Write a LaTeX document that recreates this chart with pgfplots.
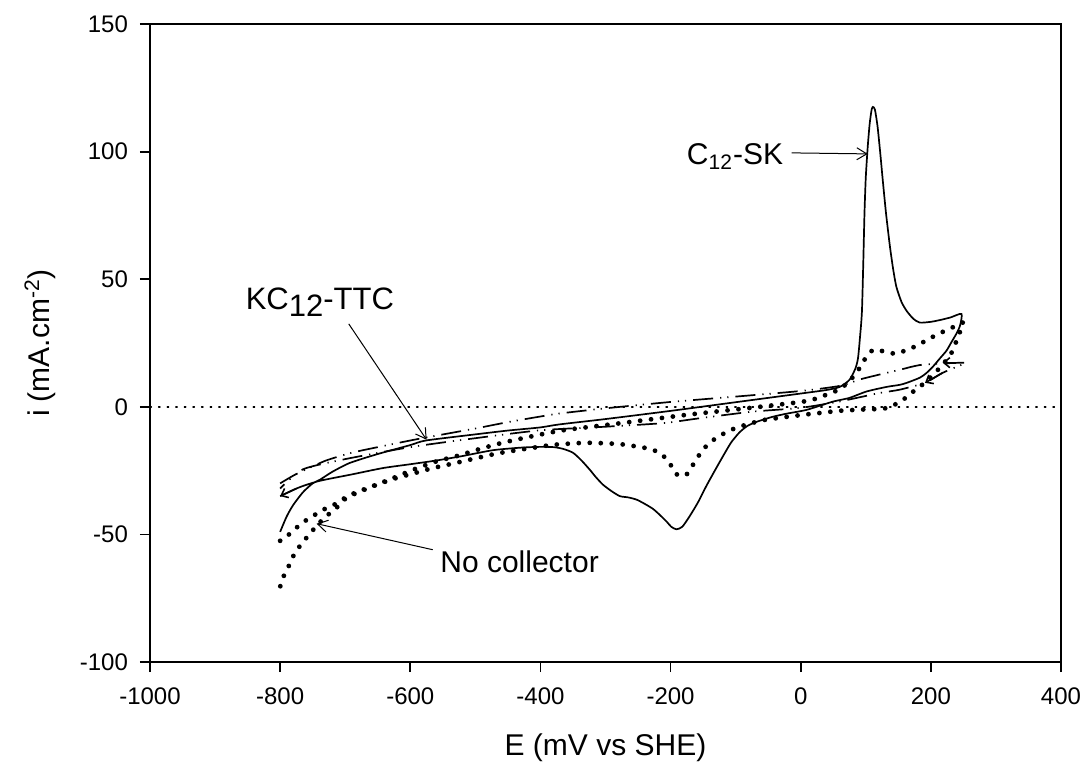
\documentclass[border=0pt]{standalone}
\usepackage{fontspec}
\setmainfont{Liberation Sans}
\usepackage{pgfplots}
\pgfplotsset{compat=1.18}
\usetikzlibrary{arrows.meta}

\begin{document}
\begin{tikzpicture}
\begin{axis}[
  scale only axis, width=455.5pt, height=319pt,
  xmin=-1000, xmax=400, ymin=-100, ymax=150,
  xtick={-1000,-800,...,400}, ytick={-100,-50,...,150},
  tick align=outside, xtick pos=bottom, ytick pos=left,
  major tick length=5pt,
  axis line style={line width=0.9pt},
  every tick/.style={line width=0.9pt, black},
  /pgf/number format/assume math mode=true,
  /pgf/number format/1000 sep={},
  ticklabel style={font=\fontsize{12}{14}\selectfont},
  xticklabel style={yshift=-4.5pt},
  yticklabel style={xshift=-2.5pt},
  xlabel={E (mV vs SHE)},
  ylabel={i (mA.cm\textsuperscript{-2})},
  label style={font=\fontsize{15}{18}\selectfont},
  xlabel style={at={(axis description cs:0.5,-0.1348)}, anchor=center},
  ylabel style={at={(axis description cs:-0.1207,0.5)}, anchor=center},
]
% zero line
\addplot[black, line width=0.7pt, dash pattern=on 0.7pt off 3.6pt, line cap=round] coordinates {(-1000,0) (400,0)};

% C12-SK (solid)
\addplot[black, line width=0.85pt, smooth, tension=0.4] coordinates {
(-800,-49) (-790,-43) (-780,-38.5) (-765,-33.5) (-750,-30) (-739,-28.6) (-720,-25.5) (-693,-22) (-650,-18.5) (-600,-15) (-576,-13.2) (-500,-10.8) (-450,-9.3) (-401,-8.1) (-371,-6.9) (-300,-4.8) (-200,-1.6) (-100,1.8) (0,5.2) (40,6.6) (60,7.8) (75,10.6) (84,15) (88,19) (91,27) (94,37) (96,55) (98,76) (100,90) (103,102) (106,111) (109,116.5) (111,117.5) (114,116.5) (118,110) (122,100) (126,89) (131,76) (137,63) (142,54) (147,47) (155,41) (163,37.5) (173,34.5) (183,33) (200,33.3) (214,34) (230,35) (247,36.4)
(245,32) (240,29) (232,25.5) (224,22) (214,19) (203,15.7) (193,13.2) (183,11.4) (163,9.4) (152,8.6) (132,7.8) (101,6) (75,3.5) (49,2) (9,-1.2) (-20,-2.6) (-43,-3.9) (-68,-5.9) (-82,-7.5) (-94,-10) (-107,-14) (-120,-19.6) (-132,-25) (-145,-31) (-158,-37.5) (-171,-43) (-182,-47) (-191,-48) (-199,-47) (-206,-45) (-216,-42.5) (-227,-40) (-240,-38) (-252,-36.4) (-265,-35.5) (-278,-35) (-291,-33) (-304,-30.5) (-315,-27.5) (-324,-24.7) (-337,-21) (-350,-18) (-365,-16.5) (-380,-15.8) (-401,-15.7) (-430,-16) (-473,-17) (-520,-19.3) (-559,-21) (-600,-22.5) (-642,-24) (-690,-26.5) (-739,-29) (-770,-31.5) (-800,-35)
};

% No collector (dotted)
\addplot[black, line width=2.4pt, dash pattern=on 0pt off 5.5pt, line cap=round, smooth, tension=0.4] coordinates {
(-800,-52.5) (-795,-52) (-780,-48.5) (-765,-45.3) (-749,-42.7) (-732,-40.1) (-712,-37.7) (-697,-35.1) (-680,-33.2) (-662,-31.5) (-629,-28.2) (-596,-24.7) (-560,-21.4) (-527,-19.2) (-494,-16.6) (-460,-14.2) (-427,-12.3) (-393,-10.5) (-360,-9) (-276,-6.4) (-174,-3.1) (-73,-0.3) (10,2.3) (43,5.1) (60,6.9) (74,9.9) (87,13.8) (97,18.1) (111,22.3) (128,21.7) (146,20.8) (161,22.1) (179,24) (196,26.5) (212,28.6) (227,30.4) (242,32.1) (250,33)
(246,30.2) (239,25.6) (232,21.3) (220,17.1) (206,13.2) (191,9.5) (175,6.4) (159,3.1) (142,0.5) (126,-0.8) (100,-1.0) (57,-1.6) (41,-2.1) (8,-3) (-26,-4.1) (-59,-5.3) (-94,-7.8) (-110,-9.4) (-126,-11.6) (-142,-14.5) (-155,-18.5) (-166,-22.9) (-177,-26.9) (-191,-26.4) (-201,-22.3) (-214,-18.5) (-230,-16.6) (-246,-15.8) (-279,-14.6) (-330,-14.1) (-381,-14.9) (-397,-15.5) (-431,-16.8) (-465,-18.2) (-498,-20.1) (-532,-22.1) (-565,-24) (-598,-26.3) (-629,-28.5) (-662,-31.6) (-697,-35.5) (-710,-38.8) (-725,-42) (-742,-46) (-753,-49.4) (-766,-53.3) (-778,-57.6) (-786,-62) (-795,-66.6) (-800,-70.5)
};

% KC12-TTC (dash-dot-dot)
\addplot[black, line width=0.85pt, dash pattern=on 10pt off 3.5pt on 0.6pt off 3pt on 0.6pt off 3.5pt, smooth, tension=0.4] coordinates {
(-800,-30) (-780,-27) (-760,-24.5) (-729,-21) (-690,-18) (-650,-15.8) (-600,-13.2) (-575,-12) (-500,-8.5) (-450,-6) (-400,-3.8) (-370,-2.6) (-300,-0.6) (-200,1.9) (-100,4) (0,6.2) (60,8.2) (95,11) (152,14.5) (187,16.5) (250,17.3)
(250,16.8) (218,13.3) (191,9.4) (152,6.7) (121,5.4) (60,2.1) (0,-0.4) (-74,-1.9) (-150,-4.3) (-212,-6.4) (-300,-7.8) (-400,-9.2) (-500,-12.3) (-600,-15.8) (-700,-20.5) (-765,-24.5) (-800,-32)
};

% annotations
\node[anchor=base, font=\fontsize{15}{18}\selectfont] at (axis cs:-101,94.8) {C\textsubscript{12}-SK};
\draw[line width=0.5pt, -{Straight Barb[length=5pt,width=6pt]}] (axis cs:-14,99.5) -- (axis cs:103,99.1);
\node[anchor=base, font=\fontsize{15.5}{18}\selectfont] at (axis cs:-739,38) {KC\raisebox{-3.5pt}{12}-TTC};
\draw[line width=0.5pt, -{Straight Barb[length=5pt,width=6pt]}] (axis cs:-694.6,32.5) -- (axis cs:-575,-12.9);
\node[anchor=base, font=\fontsize{15}{18}\selectfont] at (axis cs:-432,-65) {No collector};
\draw[line width=0.5pt, -{Straight Barb[length=5pt,width=6pt]}] (axis cs:-565.5,-56) -- (axis cs:-744,-45.8);
% scan direction marks
\draw[line width=0.8pt, -{Straight Barb[length=3pt,width=5pt]}] (axis cs:244,17.3) -- (axis cs:218,17.3);
\draw[line width=0.8pt, -{Straight Barb[length=3pt,width=5pt]}] (axis cs:218,13.3) -- (axis cs:191,9.4);
\draw[line width=0.8pt, -{Straight Barb[length=3pt,width=5pt]}] (axis cs:-775,-32) -- (axis cs:-800,-35);

\coordinate (SW) at (rel axis cs:0,0);
\coordinate (NE) at (rel axis cs:1,1);
\end{axis}
\pgfresetboundingbox
\path ([shift={(-75pt,-52pt)}]SW) rectangle ([shift={(11.5pt,12pt)}]NE);
\end{tikzpicture}
\end{document}
